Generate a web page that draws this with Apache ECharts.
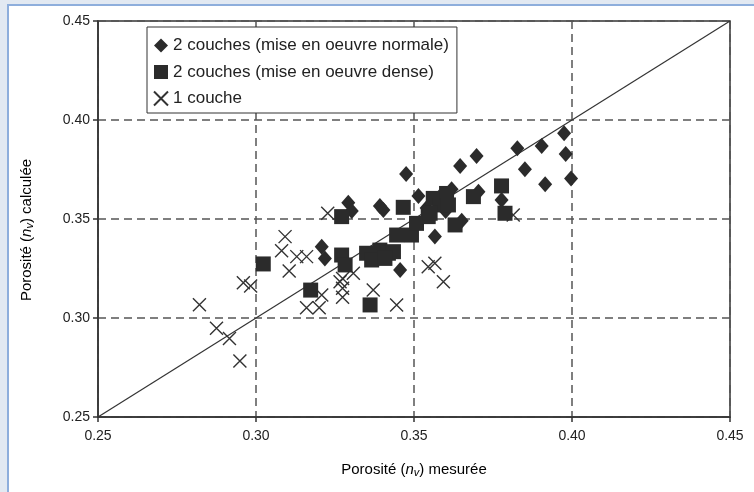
<!DOCTYPE html>
<html>
<head>
<meta charset="utf-8">
<script src="https://cdn.jsdelivr.net/npm/echarts@6/dist/echarts.min.js"></script>
<style>
  html, body { margin:0; padding:0; width:754px; height:492px; overflow:hidden; background:#e2e9f2; }
  #frame { position:absolute; left:7px; top:4px; width:800px; height:540px; background:#fff;
           border-left:2px solid #8eaedc; border-top:2px solid #8eaedc; }
  #chart { position:absolute; left:0; top:0; width:754px; height:492px; }
</style>
</head>
<body>
<div id="frame"></div>
<div id="chart"></div>
<script>
// ---- data ----
const seriesNames = ['2 couches (mise en oeuvre normale)', '2 couches (mise en oeuvre dense)', '1 couche'];
const xTicks = [0.25, 0.30, 0.35, 0.40, 0.45];
const yTicks = [0.25, 0.30, 0.35, 0.40, 0.45];
const normalPts = [
  [0.3475,0.3727],[0.3292,0.3582],[0.3303,0.3540],[0.3392,0.3566],[0.3403,0.3545],
  [0.3514,0.3616],[0.3566,0.3411],[0.3208,0.3360],[0.3218,0.3300],[0.3456,0.3242],
  [0.3975,0.3933],[0.3904,0.3869],[0.3827,0.3857],[0.3980,0.3828],[0.3698,0.3818],
  [0.3646,0.3768],[0.3851,0.3751],[0.3997,0.3705],[0.3915,0.3675],[0.3619,0.3650],
  [0.3704,0.3638],[0.3777,0.3596],[0.3651,0.3491],[0.3540,0.3555],[0.3600,0.3540],
  [0.3580,0.3610]
];
const densePts = [
  [0.3023,0.3273],[0.3271,0.3512],[0.3271,0.3318],[0.3282,0.3268],[0.3173,0.3141],
  [0.3466,0.3559],[0.3561,0.3604],[0.3582,0.3571],[0.3603,0.3629],[0.3445,0.3419],
  [0.3492,0.3419],[0.3508,0.3478],[0.3545,0.3512],[0.3350,0.3327],[0.3392,0.3343],
  [0.3419,0.3327],[0.3435,0.3335],[0.3366,0.3293],[0.3408,0.3301],[0.3361,0.3066],
  [0.3777,0.3667],[0.3688,0.3613],[0.3788,0.3529],[0.3609,0.3571],[0.3551,0.3529],
  [0.3630,0.3470]
];
const singlePts = [
  [0.3092,0.3411],[0.3081,0.3340],[0.3129,0.3310],[0.3105,0.3237],[0.2960,0.3178],
  [0.2983,0.3162],[0.2821,0.3067],[0.2875,0.2948],[0.2916,0.2897],[0.2949,0.2783],
  [0.3227,0.3529],[0.3160,0.3310],[0.3274,0.3200],[0.3274,0.3150],[0.3274,0.3105],
  [0.3208,0.3116],[0.3160,0.3052],[0.3200,0.3052],[0.3371,0.3141],[0.3445,0.3066],
  [0.3266,0.3183],[0.3308,0.3226],[0.3545,0.3259],[0.3566,0.3276],[0.3593,0.3183],
  [0.3814,0.3520]
];
const diagonal = [[0.25,0.25],[0.45,0.45]];

const FONT = '"Liberation Sans", Arial, sans-serif';
const dark = '#2b2b2b';
const crossPath = 'path://M0,0L10,10M10,0L0,10';

const chart = echarts.init(document.getElementById('chart'), null, {renderer:'canvas'});
const axisCommon = {
  type:'value', min:0.25, max:0.45, interval:0.05,
  axisLine:{show:true, onZero:false, lineStyle:{color:'#333', width:1.5}},
  axisTick:{show:true, length:5, lineStyle:{color:'#333', width:1.5}},
  axisLabel:{color:'#222', fontSize:14, fontFamily:FONT, formatter:v=>v.toFixed(2)},
  splitLine:{show:true, lineStyle:{color:'#555', width:1.5, type:[8,5]}}
};
const rich = {
  b:{fontSize:15, fontFamily:FONT, color:'#222'},
  n:{fontSize:15, fontFamily:FONT, color:'#222', fontStyle:'italic'},
  v:{fontSize:11, fontFamily:FONT, color:'#222', fontStyle:'italic', verticalAlign:'bottom', padding:[6,0,0,0]}
};
chart.setOption({
  animation:false,
  grid:{left:98, right:24, top:21, bottom:75, show:true, borderColor:'#333', borderWidth:1.5, backgroundColor:'transparent'},
  xAxis:Object.assign({}, axisCommon, {axisLabel:Object.assign({}, axisCommon.axisLabel, {margin:12})}),
  yAxis:Object.assign({}, axisCommon, {axisLabel:Object.assign({}, axisCommon.axisLabel, {margin:8})}),
  legend:{
    left:147, top:27, orient:'vertical', data:seriesNames,
    backgroundColor:'#fff', borderColor:'#333', borderWidth:1,
    padding:[10,8,6,6], itemGap:9.5, itemWidth:14, itemHeight:14,
    textStyle:{fontSize:17, fontFamily:FONT, color:'#222', lineHeight:17}
  },
  graphic:[
    {type:'text', x:414, y:470, style:{text:'{b|Porosité (}{n|n}{v|v}{b|) mesurée}', rich:rich, align:'center', verticalAlign:'middle'}},
    {type:'text', x:27, y:230, rotation:Math.PI/2, style:{text:'{b|Porosité (}{n|n}{v|v}{b|) calculée}', rich:rich, align:'center', verticalAlign:'middle'}}
  ],
  series:[
    {type:'line', data:diagonal, symbol:'none', lineStyle:{color:'#333', width:1.2}, silent:true, z:1},
    {name:seriesNames[0], type:'scatter', data:normalPts, symbol:'diamond', symbolSize:[14,16], itemStyle:{color:dark, opacity:1}, z:3},
    {name:seriesNames[1], type:'scatter', data:densePts, symbol:'rect', symbolSize:15, itemStyle:{color:dark, opacity:1}, z:3},
    {name:seriesNames[2], type:'scatter', data:singlePts, symbol:crossPath, symbolSize:13, itemStyle:{color:'rgba(0,0,0,0)', borderColor:'#333', borderWidth:1.4, opacity:1}, z:2}
  ]
});
</script>
</body>
</html>
